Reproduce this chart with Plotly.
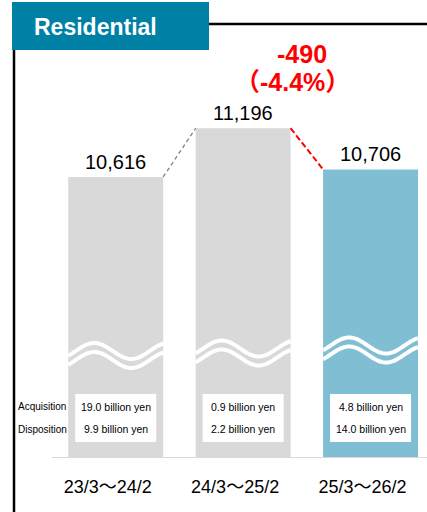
import numpy as np
import plotly.graph_objects as go

# ---- data ----
periods = ["23/3～24/2", "24/3～25/2", "25/3～26/2"]
values = [10616, 11196, 10706]
value_labels = ["10,616", "11,196", "10,706"]
acquisition = ["19.0 billion yen", "0.9 billion yen", "4.8 billion yen"]
disposition = ["9.9 billion yen", "2.2 billion yen", "14.0 billion yen"]
change_abs = "-490"
change_pct = "（-4.4%）"
bar_colors = ["#D9D9D9", "#D9D9D9", "#80BFD3"]

W, H = 427, 512
ML, MB = 52, 55
PW, PH = W - ML, H - MB
XR = [-0.5, 2.443]
YR = [7284, 12722]
BARGAP = 0.255
HALF = (1 - BARGAP) / 2
FONT = "Liberation Sans, Arial, Noto Sans CJK JP, sans-serif"


def px_x(px):
    return (px - ML) / PW


def px_y(py):
    return (PH - py) / PH


def data_to_px(xd):
    return ML + (xd - XR[0]) / (XR[1] - XR[0]) * PW


fig = go.Figure()
fig.add_trace(go.Bar(
    x=list(range(len(values))), y=values,
    marker=dict(color=bar_colors, line=dict(width=0)),
    hoverinfo="skip", showlegend=False,
))

shapes = []
annotations = []

# value labels above bars
for i, (v, lab) in enumerate(zip(values, value_labels)):
    annotations.append(dict(x=i, y=v, xref="x", yref="y", text=lab, showarrow=False,
                            xanchor="center", yanchor="bottom", yshift=2,
                            font=dict(size=20, color="#000000", family=FONT)))

# connectors between bar tops
shapes.append(dict(type="line", xref="x", yref="y",
                   x0=0 + HALF, y0=values[0], x1=1 - HALF, y1=values[1],
                   line=dict(color="#808080", width=1.3, dash="4px,3px")))
shapes.append(dict(type="line", xref="x", yref="y",
                   x0=1 + HALF, y0=values[1], x1=2 - HALF, y1=values[2],
                   line=dict(color="#FF0000", width=2, dash="6px,3px")))

# change annotation
annotations.append(dict(x=1.5, y=px_y(54), xref="x", yref="paper", text="<b>" + change_abs + "</b>",
                        showarrow=False, xshift=-5, xanchor="center", yanchor="middle",
                        font=dict(size=25, color="#FF0000", family=FONT)))
annotations.append(dict(x=1.5, y=px_y(82), xref="x", yref="paper", text="<b>" + change_pct + "</b>",
                        showarrow=False, xshift=-14, xanchor="center", yanchor="middle",
                        font=dict(size=25, color="#FF0000", family=FONT)))

# broken-axis waves across each bar
wave_centers = [351, 348.5, 345.5]
for i, yc in enumerate(wave_centers):
    left = data_to_px(i - HALF)
    right = data_to_px(i + HALF)
    xs = np.linspace(left, right, 60)
    for off in (0, 9):
        ys = yc + off - 8 * np.cos(2 * np.pi * (xs - (left + 63)) / 74 + np.pi)
        path = "M " + " L ".join(f"{px_x(a):.5f},{px_y(b):.5f}" for a, b in zip(xs, ys))
        shapes.append(dict(type="path", xref="paper", yref="paper", path=path,
                           line=dict(color="#FFFFFF", width=4), layer="above"))

# acquisition / disposition boxes
for i in range(len(values)):
    shapes.append(dict(type="rect", xref="x", yref="paper",
                       x0=i - 0.318, x1=i + 0.318, y0=px_y(442), y1=px_y(394),
                       fillcolor="#FFFFFF", line=dict(width=0), layer="above"))
    annotations.append(dict(x=i, y=px_y(407), xref="x", yref="paper", text=acquisition[i],
                            showarrow=False, xanchor="center", yanchor="middle",
                            font=dict(size=10.5, color="#000000", family=FONT)))
    annotations.append(dict(x=i, y=px_y(429), xref="x", yref="paper", text=disposition[i],
                            showarrow=False, xanchor="center", yanchor="middle",
                            font=dict(size=10.5, color="#000000", family=FONT)))

annotations.append(dict(x=px_x(16), y=px_y(406), xref="paper", yref="paper", text="Acquisition",
                        xanchor="left", yanchor="middle", showarrow=False,
                        font=dict(size=10, color="#000000", family=FONT)))
annotations.append(dict(x=px_x(16), y=px_y(429), xref="paper", yref="paper", text="Disposition",
                        xanchor="left", yanchor="middle", showarrow=False,
                        font=dict(size=10, color="#000000", family=FONT)))

# frame: left rule, top rule, title tab
shapes.append(dict(type="line", xref="paper", yref="paper",
                   x0=px_x(14), x1=px_x(14), y0=px_y(48), y1=px_y(512),
                   line=dict(color="#000000", width=2.5)))
shapes.append(dict(type="line", xref="paper", yref="paper",
                   x0=px_x(205), x1=px_x(427), y0=px_y(24), y1=px_y(24),
                   line=dict(color="#000000", width=2.5)))
shapes.append(dict(type="rect", xref="paper", yref="paper",
                   x0=px_x(12), x1=px_x(209), y0=px_y(50), y1=px_y(2),
                   fillcolor="#0080A5", line=dict(width=0), layer="above"))
annotations.append(dict(x=px_x(32), y=px_y(27), xref="paper", yref="paper",
                        text="<b>Residential</b>", xanchor="left", yanchor="middle", showarrow=False,
                        font=dict(size=23, color="#FFFFFF", family=FONT)))

fig.update_layout(
    width=W, height=H,
    margin=dict(l=ML, r=0, t=0, b=MB, pad=0),
    paper_bgcolor="#FFFFFF", plot_bgcolor="#FFFFFF",
    bargap=BARGAP,
    shapes=shapes, annotations=annotations,
    xaxis=dict(range=XR, tickmode="array", tickvals=list(range(len(periods))), ticktext=periods,
               showgrid=False, zeroline=False, showline=True, linecolor="#D9D9D9", linewidth=1,
               ticks="", ticklabelstandoff=13, ticklabelshift=-8,
               tickfont=dict(size=18, color="#000000", family=FONT), fixedrange=True),
    yaxis=dict(range=YR, visible=False, fixedrange=True),
    font=dict(family=FONT),
)

fig.write_html("out.html", config={"displayModeBar": False})
